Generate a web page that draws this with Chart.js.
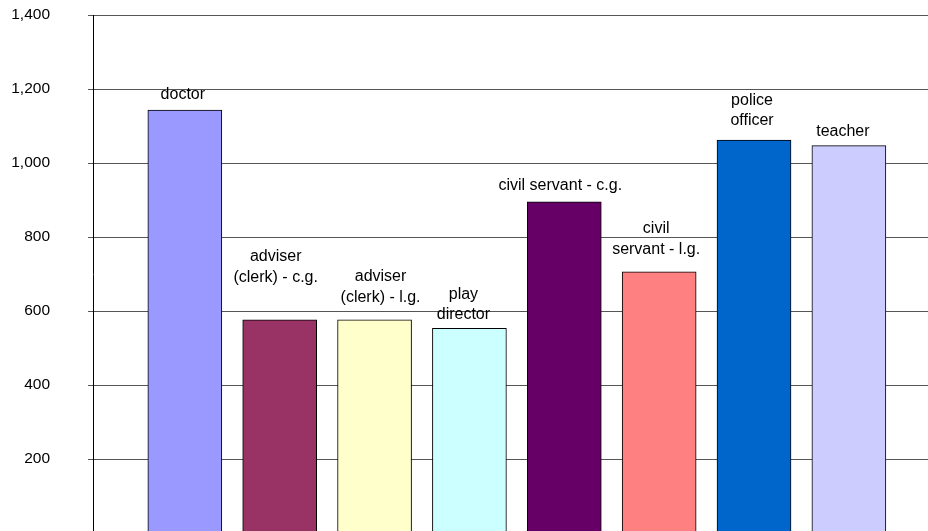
<!DOCTYPE html>
<html>
<head>
<meta charset="utf-8">
<title>Occupations</title>
<script src="https://cdn.jsdelivr.net/npm/chart.js@4/dist/chart.umd.min.js"></script>
<style>
  html, body { margin: 0; padding: 0; background: #ffffff; overflow: hidden; }
  canvas { display: block; }
</style>
</head>
<body>
<canvas id="chart" width="928" height="550"></canvas>
<script>
/* global Chart */

// occupations, one bar each
const categories = [
  'doctor',
  'adviser (clerk) - c.g.',
  'adviser (clerk) - l.g.',
  'play director',
  'civil servant - c.g.',
  'civil servant - l.g.',
  'police officer',
  'teacher',
];

// caption above each bar, already wrapped into lines
const captionLines = [
  ['doctor'],
  ['adviser', '(clerk) - c.g.'],
  ['adviser', '(clerk) - l.g.'],
  ['play', 'director'],
  ['civil servant - c.g.'],
  ['civil', 'servant - l.g.'],
  ['police', 'officer'],
  ['teacher'],
];

const values = [1143, 576, 576, 553, 895, 706, 1062, 1047];

const barColors = ['#9999FF', '#993366', '#FFFFCC', '#CCFFFF', '#660066', '#FF8080', '#0066CC', '#CCCCFF'];

const yMin = 0;
const yMax = 1400;
const yStep = 200;

// caption placement tweaks: gap above bar top (px), horizontal nudge (px)
const captionGap = [11, 38, 18, 9, 12, 18, 15, 10];
const captionDx  = [-2, -4, 6, -6, -4, -3, -2, -6];

const FONT = '"Liberation Sans", Arial, Helvetica, sans-serif';

/** Dibuja los rótulos encima de cada barra */
const barCaptions = {
  id: 'barCaptions',
  afterDatasetsDraw(chart) {
    const { ctx } = chart;
    const bars = chart.getDatasetMeta(0).data;
    ctx.save();
    ctx.font = '16px ' + FONT;
    ctx.fillStyle = '#000000';
    ctx.textAlign = 'center';
    ctx.textBaseline = 'alphabetic';
    bars.forEach((bar, i) => {
      const lines = captionLines[i];
      let y = bar.y - captionGap[i];
      for (let k = lines.length - 1; k >= 0; k--) {
        ctx.fillText(lines[k], bar.x + captionDx[i], y);
        y -= 20.5;
      }
    });
    ctx.restore();
  },
};

new Chart(document.getElementById('chart'), {
  type: 'bar',
  data: {
    labels: categories,
    datasets: [{
      data: values.map((v, i) => ({ x: i, y: v })),
      backgroundColor: barColors,
      borderColor: '#000000',
      borderWidth: 1,
      borderSkipped: false,
      barThickness: 74,
    }],
  },
  options: {
    responsive: false,
    animation: false,
    devicePixelRatio: 1,
    layout: { padding: { left: 0, right: 0, top: 15, bottom: 17 } },
    plugins: {
      legend: { display: false },
      tooltip: { enabled: false },
    },
    scales: {
      x: {
        type: 'linear',
        display: false,
        offset: false,
        min: -0.968,
        max: 7.834,
      },
      y: {
        min: yMin,
        max: yMax,
        ticks: {
          stepSize: yStep,
          color: '#000000',
          font: { family: FONT, size: 15.5 },
          padding: 38,
          // el cero queda fuera del recorte inferior
          callback: v => (v === 0 ? '' : v.toLocaleString('en-US')),
        },
        grid: { color: '#555555', lineWidth: 1, tickLength: 5 },
        border: { display: true, color: '#000000', width: 1 },
        // ancho fijo del eje; sin relleno extra arriba/abajo por los rótulos
        afterFit: s => {
          s.width = 93;
          s.paddingTop = 0;
          s.paddingBottom = 0;
        },
      },
    },
  },
  plugins: [barCaptions],
});
</script>
</body>
</html>
